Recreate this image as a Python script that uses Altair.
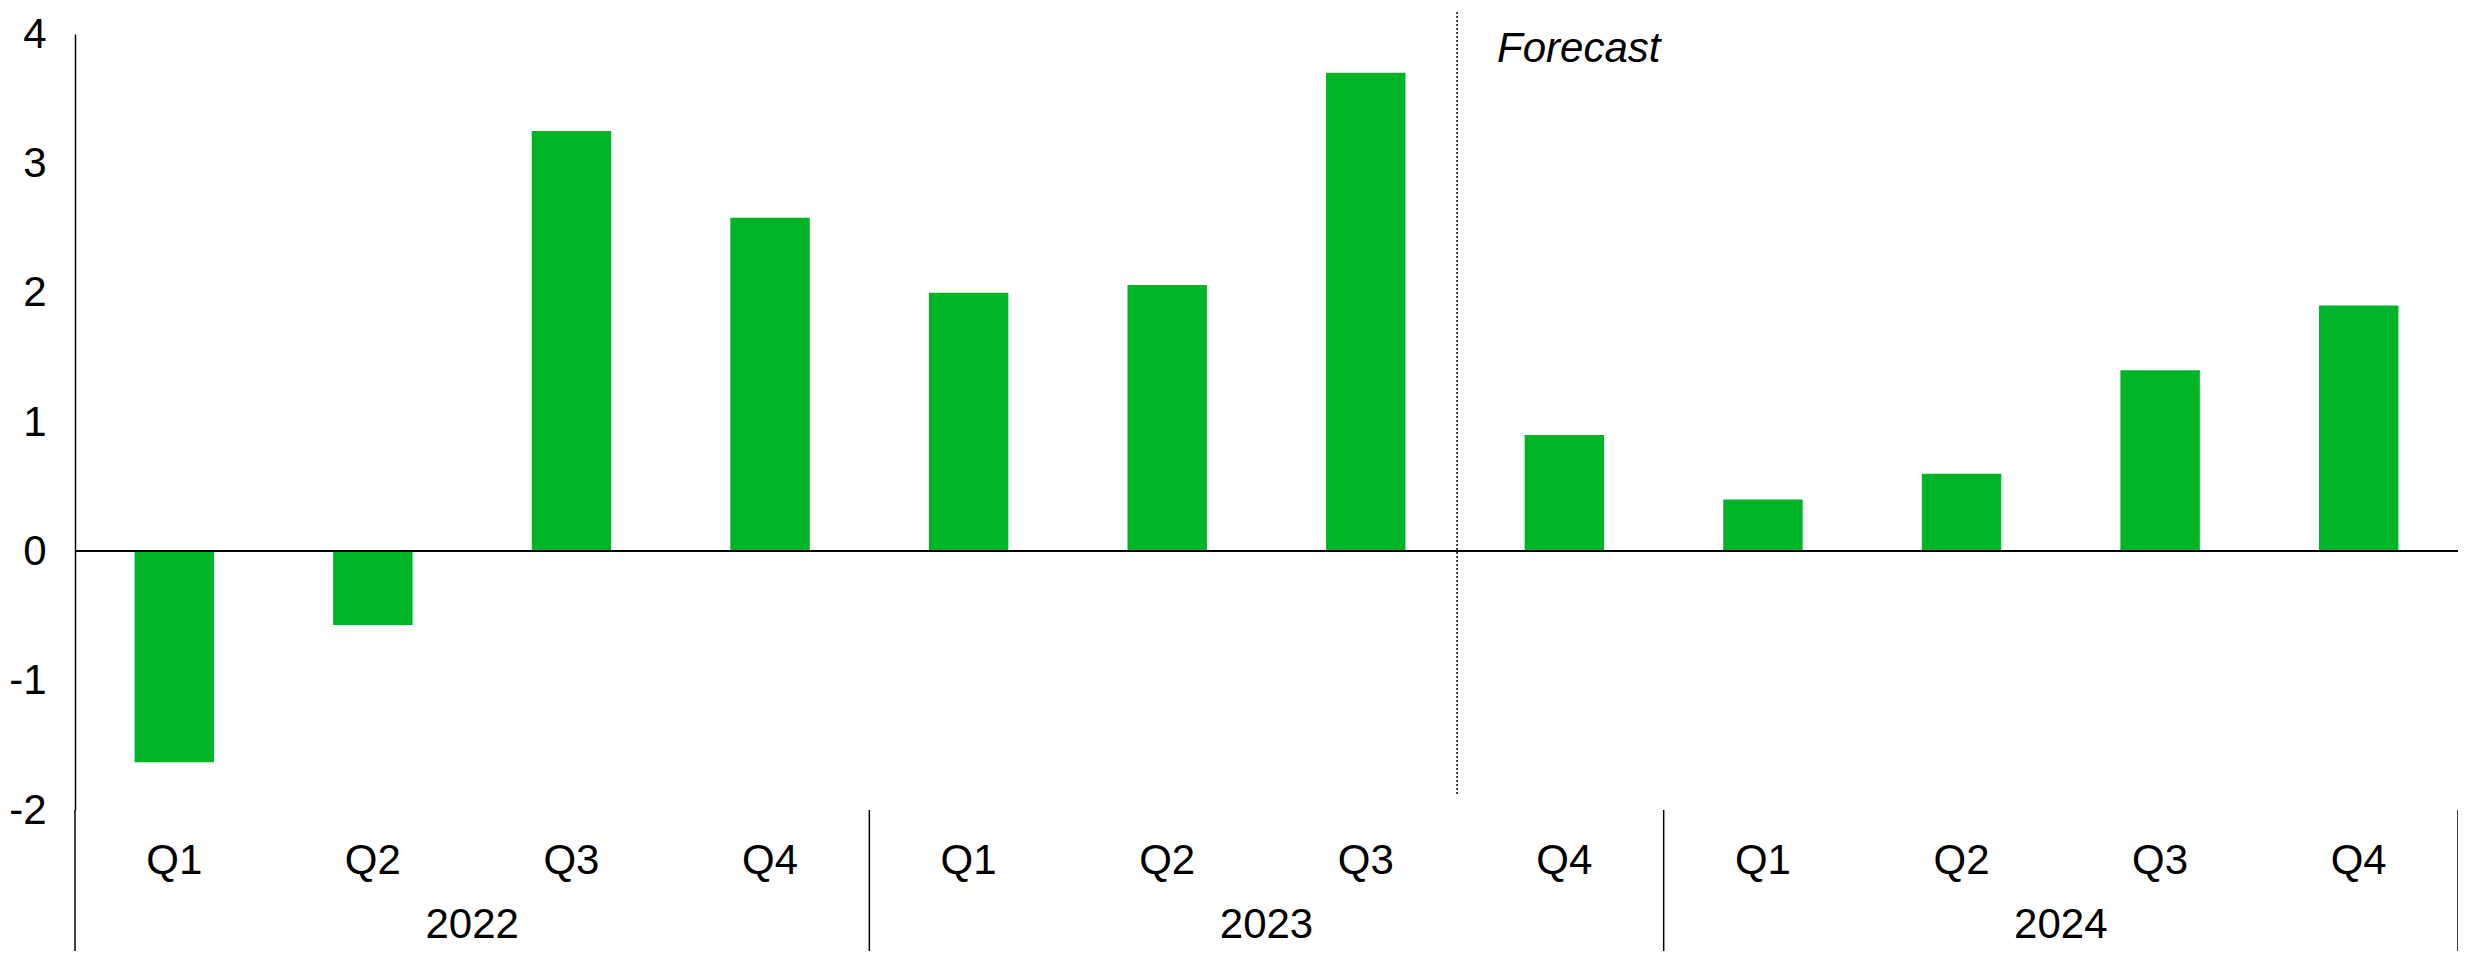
import altair as alt
import pandas as pd

years = ["2022", "2022", "2022", "2022",
         "2023", "2023", "2023", "2023",
         "2024", "2024", "2024", "2024"]
quarters = ["Q1", "Q2", "Q3", "Q4"] * 3
values = [-1.63, -0.57, 3.25, 2.58,
          2.00, 2.06, 3.70, 0.90,
          0.40, 0.60, 1.40, 1.90]
year_labels = ["2022", "2023", "2024"]
forecast_label = "Forecast"
forecast_start = "2023 Q4"
y_ticks = [-2, -1, 0, 1, 2, 3, 4]

cats = [f"{y} {q}" for y, q in zip(years, quarters)]
df = pd.DataFrame({"cat": cats, "value": values})

FONT = "Liberation Sans"
FS = 42
GREEN = "#00b428"
TOP = 26
H = 776
BOTTOM = 943 - TOP - H
LOW = H + BOTTOM  # bottom edge of the canvas, in plot coordinates

x_scale = alt.Scale(domain=cats, paddingInner=0, paddingOuter=0)
x_axis = alt.Axis(
    title=None, labelExpr="split(datum.value, ' ')[1]", labelFont=FONT,
    labelFontSize=FS, labelColor="black", labelPadding=50,
    labelBaseline="middle", labelAngle=0, ticks=False, tickSize=0,
    domain=False, grid=False,
)
y_scale = alt.Scale(domain=[-2, 4], nice=False, zero=False)
y_axis = alt.Axis(
    title=None, values=y_ticks, labelExpr="'' + datum.value", labelFont=FONT,
    labelFontSize=FS, labelColor="black", labelPadding=29, ticks=False,
    tickSize=0, grid=False, domainColor="black", domainWidth=1.5,
)


def X(**kw):
    return alt.X("cat:N", scale=x_scale, sort=cats, axis=x_axis, **kw)


bars = alt.Chart(df).mark_bar(width={"band": 0.4}, color=GREEN).encode(
    x=X(),
    y=alt.Y("value:Q", scale=y_scale, axis=y_axis),
)

zero = alt.Chart(df).mark_rule(color="black", strokeWidth=1.5).encode(
    y=alt.datum(0, scale=y_scale)
)

# year separators below the plot
sep_df = pd.DataFrame({"cat": [cats[i] for i in range(0, len(cats), 4)]})
seps = alt.Chart(sep_df).mark_rule(color="black", strokeWidth=1.5).encode(
    x=X(bandPosition=0), y=alt.value(H), y2=alt.value(LOW)
)
end_df = pd.DataFrame({"cat": [cats[-1]]})
sep_end = alt.Chart(end_df).mark_rule(color="black", strokeWidth=1.5).encode(
    x=X(bandPosition=1), y=alt.value(H), y2=alt.value(LOW)
)

# year labels centred under each group of four quarters
yl_df = pd.DataFrame({"cat": [cats[i + 2] for i in range(0, len(cats), 4)],
                      "label": year_labels})
ylabels = alt.Chart(yl_df).mark_text(
    font=FONT, fontSize=FS, color="black", baseline="middle", align="center"
).encode(x=X(bandPosition=0), y=alt.value(H + 115), text="label:N")

# forecast divider + label
fc_df = pd.DataFrame({"cat": [forecast_start], "label": [forecast_label]})
fc_rule = alt.Chart(fc_df).mark_rule(
    color="black", strokeWidth=1.5, strokeDash=[2, 2], xOffset=-8
).encode(x=X(bandPosition=0), y=alt.value(-22), y2=alt.value(H - 14))
fc_text = alt.Chart(fc_df).mark_text(
    font=FONT, fontSize=FS, fontStyle="italic", color="black",
    align="left", baseline="alphabetic", dx=32
).encode(x=X(bandPosition=0), y=alt.value(28), text="label:N")

chart = alt.layer(bars, zero, seps, sep_end, ylabels, fc_rule, fc_text).properties(
    width=2383, height=H,
    autosize=alt.AutoSizeParams(type="none"),
    padding={"left": 67, "top": TOP, "right": 0, "bottom": BOTTOM},
    background="white",
).configure_view(stroke=None)

chart.save("out.html", embed_options={"renderer": "svg", "actions": False})
